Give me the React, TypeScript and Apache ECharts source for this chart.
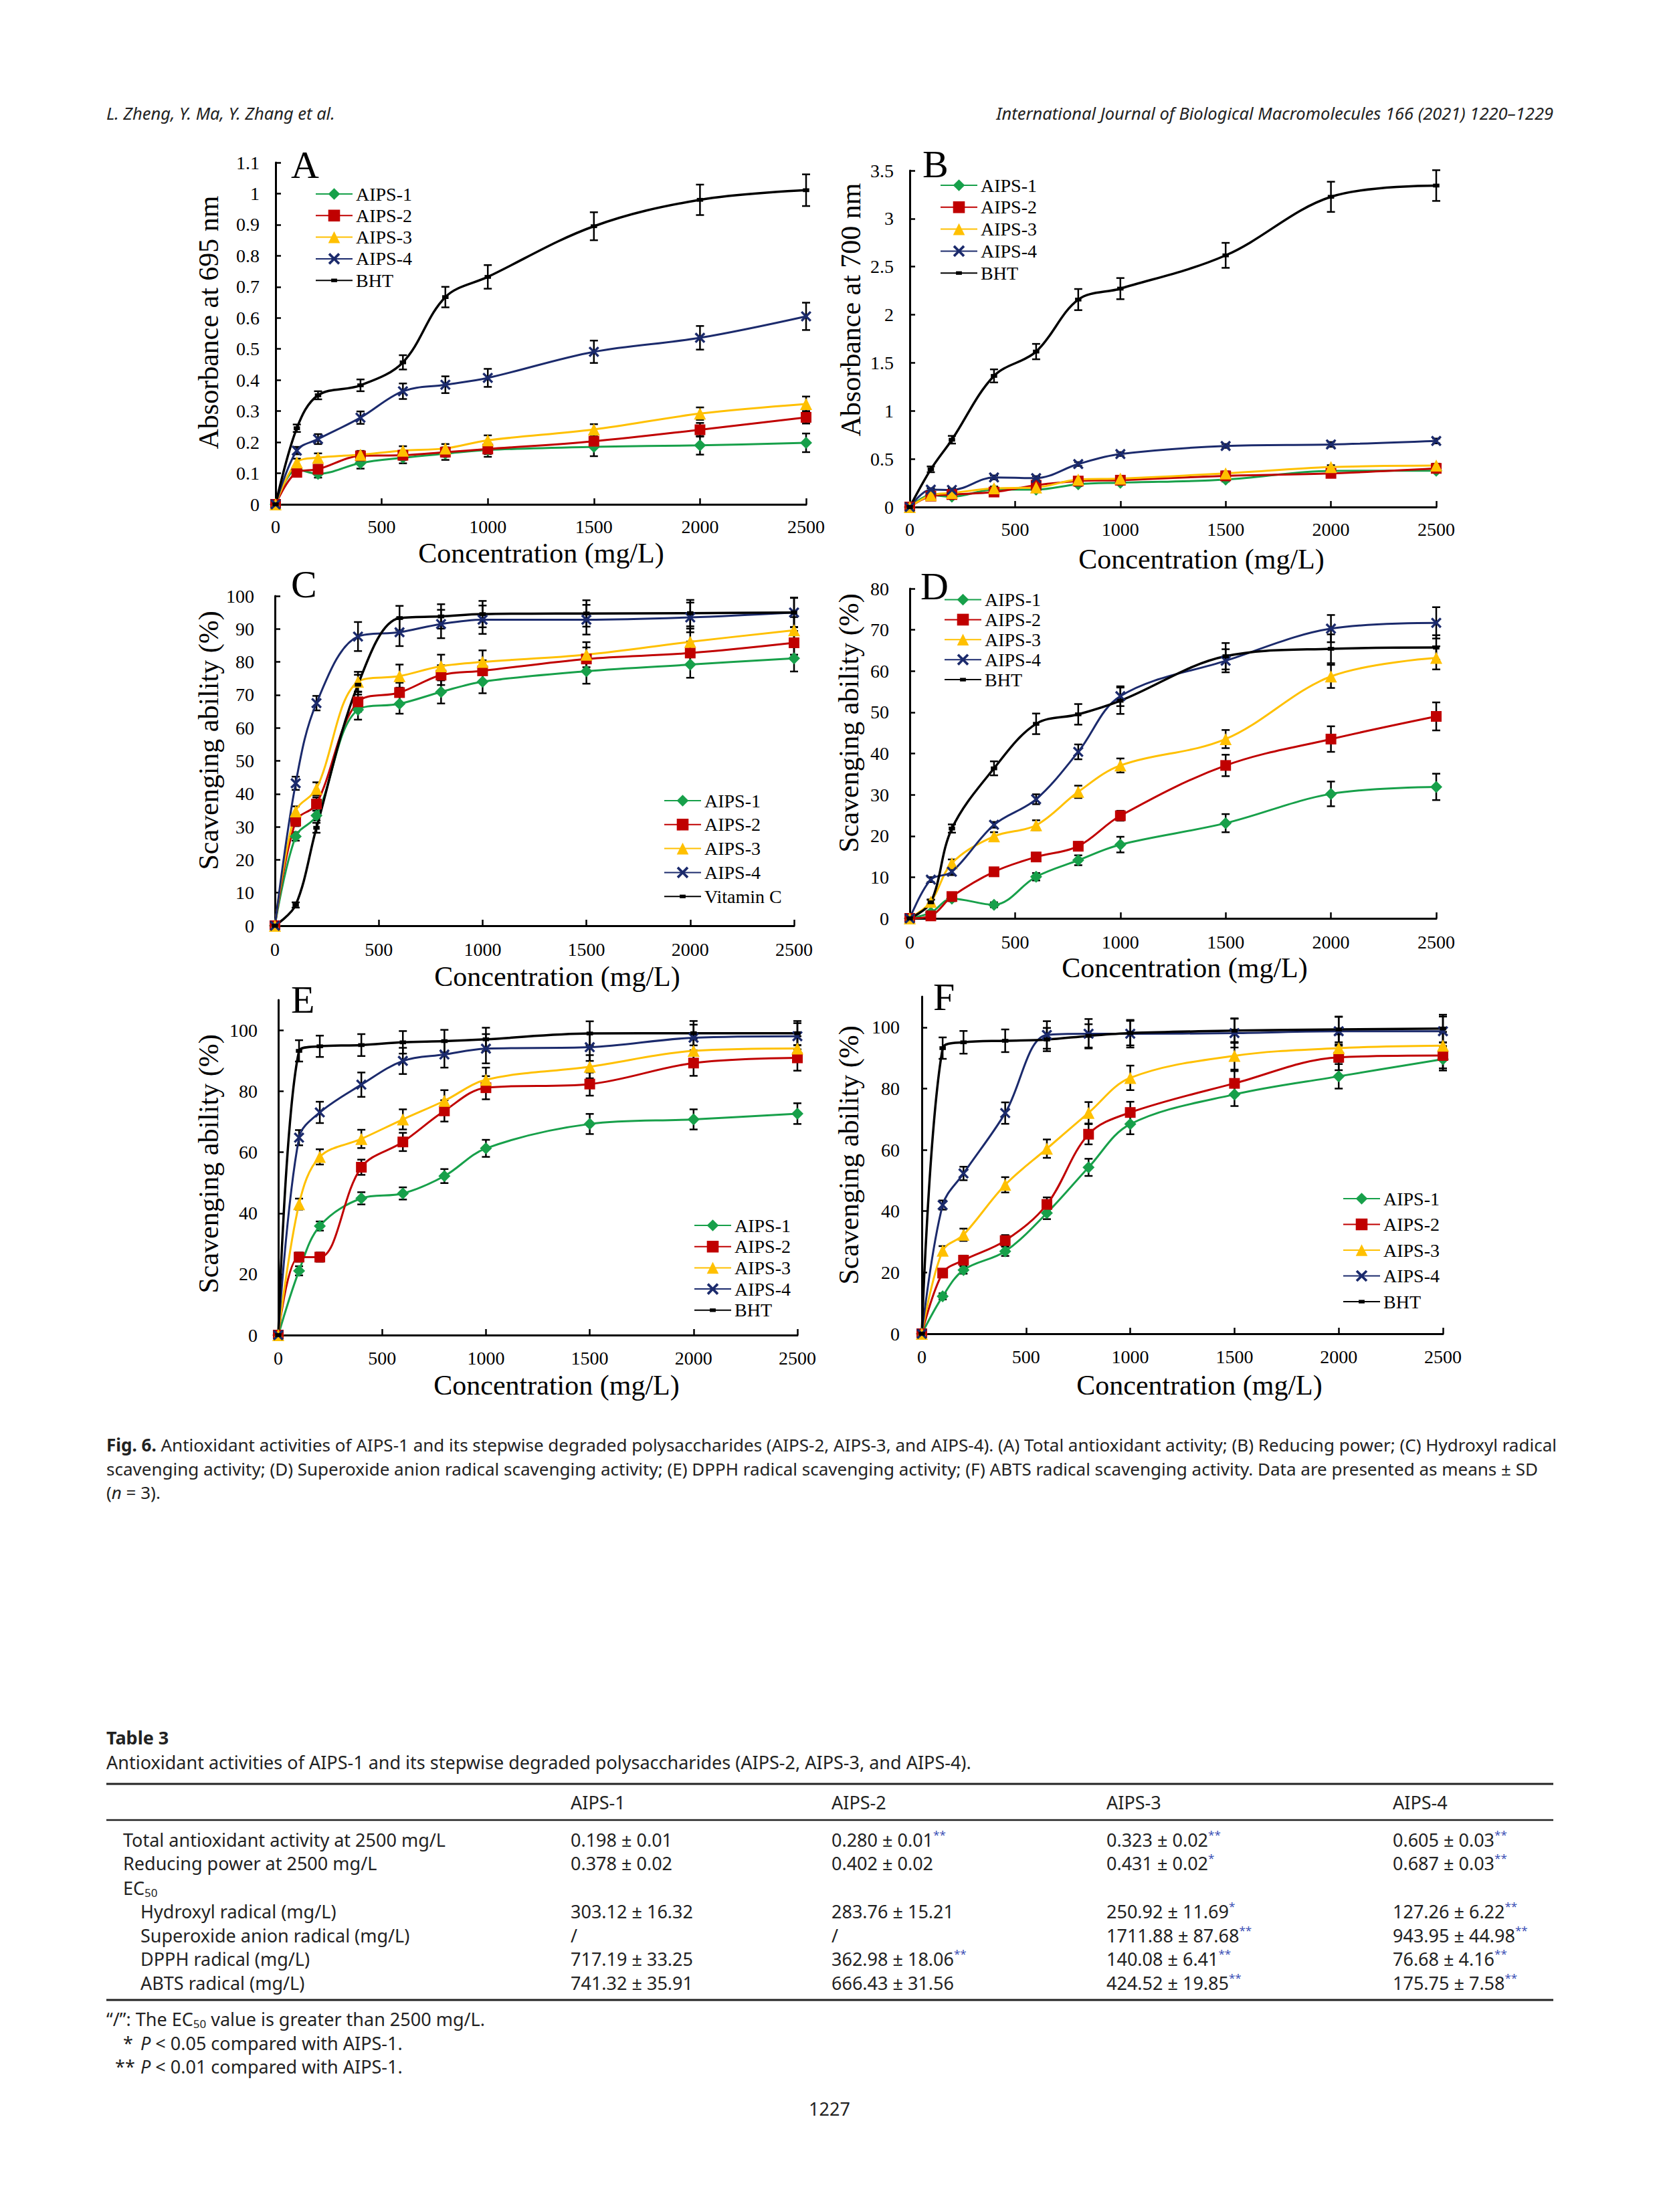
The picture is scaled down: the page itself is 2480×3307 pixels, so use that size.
import React, { useEffect, useRef } from "react";
import * as echarts from "echarts";

// ---------------- data ----------------
const X_CONC = [0, 100, 200, 400, 600, 800, 1000, 1500, 2000, 2500];

// (A) Total antioxidant activity (absorbance at 695 nm)
const A_AIPS1 = [0, 0.112, 0.098, 0.133, 0.150, 0.163, 0.175, 0.185, 0.190, 0.198];
const A_AIPS1_SD = [0, 0.012, 0.012, 0.018, 0.018, 0.02, 0.022, 0.03, 0.03, 0.03];
const A_AIPS2 = [0, 0.103, 0.113, 0.156, 0.158, 0.168, 0.178, 0.203, 0.240, 0.280];
const A_AIPS2_SD = [0, 0.012, 0.014, 0.012, 0.015, 0.015, 0.016, 0.02, 0.022, 0.02];
const A_AIPS3 = [0, 0.135, 0.150, 0.160, 0.173, 0.180, 0.206, 0.241, 0.292, 0.323];
const A_AIPS3_SD = [0, 0.012, 0.014, 0.012, 0.014, 0.014, 0.016, 0.017, 0.02, 0.024];
const A_AIPS4 = [0, 0.173, 0.210, 0.279, 0.364, 0.385, 0.407, 0.491, 0.536, 0.605];
const A_AIPS4_SD = [0, 0.012, 0.016, 0.02, 0.025, 0.027, 0.029, 0.036, 0.038, 0.044];
const A_BHT = [0, 0.245, 0.351, 0.383, 0.457, 0.667, 0.732, 0.895, 0.980, 1.011];
const A_BHT_SD = [0, 0.012, 0.013, 0.019, 0.023, 0.033, 0.038, 0.045, 0.049, 0.051];

// (B) Reducing power (absorbance at 700 nm)
const B_AIPS1 = [0, 0.123, 0.107, 0.181, 0.181, 0.237, 0.253, 0.285, 0.376, 0.378];
const B_AIPS1_SD = [0, 0.015, 0.015, 0.02, 0.02, 0.02, 0.02, 0.02, 0.02, 0.02];
const B_AIPS2 = [0, 0.113, 0.130, 0.156, 0.227, 0.270, 0.279, 0.324, 0.350, 0.402];
const B_AIPS2_SD = [0, 0.015, 0.015, 0.02, 0.02, 0.02, 0.02, 0.02, 0.02, 0.02];
const B_AIPS3 = [0, 0.123, 0.146, 0.194, 0.204, 0.285, 0.295, 0.350, 0.415, 0.431];
const B_AIPS3_SD = [0, 0.015, 0.015, 0.02, 0.02, 0.02, 0.02, 0.02, 0.02, 0.02];
const B_AIPS4 = [0, 0.181, 0.178, 0.308, 0.301, 0.447, 0.551, 0.635, 0.651, 0.687];
const B_AIPS4_SD = [0, 0.015, 0.015, 0.02, 0.02, 0.02, 0.02, 0.02, 0.025, 0.025];
const B_BHT = [0, 0.392, 0.70, 1.364, 1.617, 2.158, 2.272, 2.618, 3.227, 3.344];
const B_BHT_SD = [0, 0.03, 0.04, 0.068, 0.08, 0.11, 0.11, 0.13, 0.157, 0.16];

// (C) Hydroxyl radical scavenging (%)
const C_AIPS1 = [0, 27.1, 33.4, 65.5, 67.3, 70.9, 74.0, 77.2, 79.2, 81.1];
const C_AIPS1_SD = [0, 1.3, 1.5, 3, 3, 3.5, 3.5, 3.8, 4, 4];
const C_AIPS2 = [0, 31.7, 36.9, 67.9, 70.7, 76.0, 77.3, 80.9, 82.7, 85.8];
const C_AIPS2_SD = [0, 1.5, 2, 3, 3, 3, 3.2, 3.5, 3.5, 3.6];
const C_AIPS3 = [0, 34.7, 41.5, 74.0, 75.7, 78.7, 80.0, 82.2, 86.1, 89.6];
const C_AIPS3_SD = [0, 1.5, 2, 3, 3.5, 3.5, 3.5, 3.8, 4, 4];
const C_AIPS4 = [0, 43.2, 67.5, 87.7, 89.0, 91.5, 92.8, 92.8, 93.5, 95.0];
const C_AIPS4_SD = [0, 2, 2.2, 4.4, 4.2, 4.3, 4.3, 4.5, 4.5, 4.5];
const C_VITC = [0, 6.3, 29.7, 73.1, 93.3, 93.8, 94.5, 94.7, 94.8, 95.0];
const C_VITC_SD = [0, 0.8, 1.5, 3, 3.7, 3.7, 4, 4, 4, 4.4];

// (D) Superoxide anion radical scavenging (%)
const D_AIPS1 = [0, 1.4, 4.8, 3.3, 10.1, 14.1, 17.9, 23.1, 30.2, 31.9];
const D_AIPS1_SD = [0, 0.5, 0.6, 0.6, 0.9, 1.2, 1.9, 2.2, 3, 3.2];
const D_AIPS2 = [0, 0.6, 5.3, 11.3, 14.9, 17.5, 24.9, 37.1, 43.5, 49.0];
const D_AIPS2_SD = [0, 0.4, 0.8, 1, 1, 1, 1.2, 2.6, 3.1, 3.4];
const D_AIPS3 = [0, 4.0, 13.4, 19.9, 22.6, 30.7, 37.1, 43.5, 58.7, 63.2];
const D_AIPS3_SD = [0, 0.6, 0.9, 1, 1.2, 1.5, 1.7, 2.2, 2.8, 2.8];
const D_AIPS4 = [0, 9.4, 11.3, 22.7, 28.9, 40.4, 53.9, 62.5, 70.3, 71.7];
const D_AIPS4_SD = [0, 0.6, 0.8, 0.7, 1.2, 1.8, 2.4, 2.8, 3.3, 3.8];
const D_BHT = [0, 3.9, 21.8, 36.4, 47.2, 49.5, 52.8, 63.6, 65.4, 65.7];
const D_BHT_SD = [0, 0.6, 1, 1.7, 2.5, 2.5, 3.2, 3.2, 3.5, 3];

// (E) DPPH radical scavenging (%)
const E_AIPS1 = [0, 21.1, 35.8, 44.9, 46.5, 52.2, 61.3, 69.3, 70.8, 72.7];
const E_AIPS1_SD = [0, 1.5, 1.5, 2, 2, 2.3, 2.8, 3.3, 3.3, 3.4];
const E_AIPS2 = [0, 25.6, 25.6, 55.1, 63.4, 73.6, 81.2, 82.4, 89.3, 91.0];
const E_AIPS2_SD = [0, 1.5, 1.5, 2.5, 3, 3.5, 3.8, 3.8, 4.2, 4.2];
const E_AIPS3 = [0, 43.0, 58.5, 64.4, 70.8, 76.9, 83.8, 88.1, 93.3, 94.1];
const E_AIPS3_SD = [0, 1.8, 2.5, 3, 3.3, 3.5, 4, 3.8, 4, 4];
const E_AIPS4 = [0, 64.8, 73.1, 82.2, 90.0, 92.1, 94.0, 94.5, 97.6, 98.1];
const E_AIPS4_SD = [0, 2.5, 3.5, 4, 4.3, 4.3, 4.8, 4.5, 4.3, 4.3];
const E_BHT = [0, 93.3, 94.8, 95.2, 96.1, 96.5, 97.1, 99.0, 99.1, 99.1];
const E_BHT_SD = [0, 3.5, 3.5, 3.6, 3.7, 3.7, 3.8, 4, 4, 4];

// (F) ABTS radical scavenging (%)
const F_AIPS1 = [0, 12.2, 20.8, 26.9, 39.4, 54.3, 68.4, 78.1, 84.0, 89.6];
const F_AIPS1_SD = [0, 1, 1.2, 1.5, 2, 2.8, 3.3, 3.8, 4, 3.7];
const F_AIPS2 = [0, 19.8, 24.0, 30.4, 42.2, 65.1, 72.2, 81.7, 90.2, 90.8];
const F_AIPS2_SD = [0, 1, 1.5, 1.8, 2.3, 3.3, 3.5, 4, 4.2, 4.2];
const F_AIPS3 = [0, 27.1, 32.3, 48.6, 60.4, 72.1, 83.5, 90.7, 93.2, 94.0];
const F_AIPS3_SD = [0, 1.5, 2, 2.5, 3, 3.5, 4, 4.5, 4.5, 4.5];
const F_AIPS4 = [0, 42.0, 52.3, 72.0, 97.5, 97.9, 97.9, 98.1, 98.7, 98.7];
const F_AIPS4_SD = [0, 1.5, 2.2, 3.5, 4.5, 4.8, 4.5, 4.7, 4.7, 4.8];
const F_BHT = [0, 93.2, 95.1, 95.6, 96.0, 97.2, 98.1, 98.9, 99.3, 99.6];
const F_BHT_SD = [0, 3.5, 3.7, 3.7, 3.8, 3.8, 4, 4, 4.2, 4.5];

const PCT_TICKS_20 = [0, 20, 40, 60, 80, 100];

// Table 3
const TABLE_COLS = ["AIPS-1", "AIPS-2", "AIPS-3", "AIPS-4"];
const TABLE_ROW_LABELS = [
  "Total antioxidant activity at 2500 mg/L",
  "Reducing power at 2500 mg/L",
  "EC50",
  "Hydroxyl radical (mg/L)",
  "Superoxide anion radical (mg/L)",
  "DPPH radical (mg/L)",
  "ABTS radical (mg/L)",
];
// [value, significance]
const ROW_TOTAL = [["0.198 ± 0.01", ""], ["0.280 ± 0.01", "**"], ["0.323 ± 0.02", "**"], ["0.605 ± 0.03", "**"]];
const ROW_REDUCING = [["0.378 ± 0.02", ""], ["0.402 ± 0.02", ""], ["0.431 ± 0.02", "*"], ["0.687 ± 0.03", "**"]];
const ROW_HYDROXYL = [["303.12 ± 16.32", ""], ["283.76 ± 15.21", ""], ["250.92 ± 11.69", "*"], ["127.26 ± 6.22", "**"]];
const ROW_SUPEROXIDE = [["/", ""], ["/", ""], ["1711.88 ± 87.68", "**"], ["943.95 ± 44.98", "**"]];
const ROW_DPPH = [["717.19 ± 33.25", ""], ["362.98 ± 18.06", "**"], ["140.08 ± 6.41", "**"], ["76.68 ± 4.16", "**"]];
const ROW_ABTS = [["741.32 ± 35.91", ""], ["666.43 ± 31.56", ""], ["424.52 ± 19.85", "**"], ["175.75 ± 7.58", "**"]];

// ---------------- styles / layout ----------------
const SERIF = "'Liberation Serif', 'Times New Roman', serif";
const SANS = "'Noto Sans', 'Liberation Sans', sans-serif";

const X_SYMBOL =
  "path://M1.5,0 L5,3.5 L8.5,0 L10,1.5 L6.5,5 L10,8.5 L8.5,10 L5,6.5 L1.5,10 L0,8.5 L3.5,5 L0,1.5 Z";
const DASH_SYMBOL = "path://M0,0 L0,0 M20,20 L20,20 M5,7 L15,7 L15,13 L5,13 Z";

const STYLE: Record<string, any> = {
  "AIPS-1": { color: "#17a04a", symbol: "diamond", size: 18, width: 3 },
  "AIPS-2": { color: "#c00000", symbol: "rect", size: 16, width: 3 },
  "AIPS-3": { color: "#ffc000", symbol: "triangle", size: 18, width: 3 },
  "AIPS-4": { color: "#1b2a6c", symbol: X_SYMBOL, size: 16, width: 3 },
  BHT: { color: "#000000", symbol: DASH_SYMBOL, size: 19, width: 3.5 },
  "Vitamin C": { color: "#000000", symbol: DASH_SYMBOL, size: 19, width: 3.5 },
};

const PANELS = [
  {
    letter: "A", lx: 435, ly: 246,
    grid: { left: 412, top: 243, width: 793, height: 511 },
    yMax: 1.1, yInt: 0.1, yCustom: null as number[] | null, yMargin: 24, xMargin: 19,
    yTitle: "Absorbance at 695 nm", ytx: 312, yty: 482, xtx: 809, xty: 827,
    legend: { left: 471, top: 276, gap: 4.3 },
    series: [["AIPS-1", A_AIPS1, A_AIPS1_SD], ["AIPS-2", A_AIPS2, A_AIPS2_SD], ["AIPS-3", A_AIPS3, A_AIPS3_SD], ["AIPS-4", A_AIPS4, A_AIPS4_SD], ["BHT", A_BHT, A_BHT_SD]],
  },
  {
    letter: "B", lx: 1379, ly: 245,
    grid: { left: 1360, top: 255, width: 787, height: 503 },
    yMax: 3.5, yInt: 0.5, yCustom: null, yMargin: 24, xMargin: 19,
    yTitle: "Absorbance at 700 nm", ytx: 1272, yty: 463, xtx: 1796, xty: 836,
    legend: { left: 1405, top: 263, gap: 4.8 },
    series: [["AIPS-1", B_AIPS1, B_AIPS1_SD], ["AIPS-2", B_AIPS2, B_AIPS2_SD], ["AIPS-3", B_AIPS3, B_AIPS3_SD], ["AIPS-4", B_AIPS4, B_AIPS4_SD], ["BHT", B_BHT, B_BHT_SD]],
  },
  {
    letter: "C", lx: 435, ly: 873,
    grid: { left: 411, top: 891, width: 776, height: 493 },
    yMax: 100, yInt: 10, yCustom: null, yMargin: 31, xMargin: 21,
    yTitle: "Scavenging ability (%)", ytx: 312, yty: 1107, xtx: 833, xty: 1460,
    legend: { left: 992, top: 1183, gap: 7.8 },
    series: [["AIPS-1", C_AIPS1, C_AIPS1_SD], ["AIPS-2", C_AIPS2, C_AIPS2_SD], ["AIPS-3", C_AIPS3, C_AIPS3_SD], ["AIPS-4", C_AIPS4, C_AIPS4_SD], ["Vitamin C", C_VITC, C_VITC_SD]],
  },
  {
    letter: "D", lx: 1376, ly: 876,
    grid: { left: 1360, top: 880, width: 787, height: 493 },
    yMax: 80, yInt: 10, yCustom: null, yMargin: 31, xMargin: 21,
    yTitle: "Scavenging ability (%)", ytx: 1269, yty: 1081, xtx: 1771, xty: 1447,
    legend: { left: 1411, top: 882.5, gap: 1.9 },
    series: [["AIPS-1", D_AIPS1, D_AIPS1_SD], ["AIPS-2", D_AIPS2, D_AIPS2_SD], ["AIPS-3", D_AIPS3, D_AIPS3_SD], ["AIPS-4", D_AIPS4, D_AIPS4_SD], ["BHT", D_BHT, D_BHT_SD]],
  },
  {
    letter: "E", lx: 435, ly: 1494,
    grid: { left: 416, top: 1495, width: 776, height: 501 },
    yMax: 110, yInt: 20, yCustom: PCT_TICKS_20, yMargin: 31, xMargin: 20,
    yTitle: "Scavenging ability (%)", ytx: 312, yty: 1740, xtx: 832, xty: 2071,
    legend: { left: 1037, top: 1818, gap: 3.7 },
    series: [["AIPS-1", E_AIPS1, E_AIPS1_SD], ["AIPS-2", E_AIPS2, E_AIPS2_SD], ["AIPS-3", E_AIPS3, E_AIPS3_SD], ["AIPS-4", E_AIPS4, E_AIPS4_SD], ["BHT", E_BHT, E_BHT_SD]],
  },
  {
    letter: "F", lx: 1395, ly: 1490,
    grid: { left: 1378, top: 1490, width: 779, height: 504 },
    yMax: 110, yInt: 20, yCustom: PCT_TICKS_20, yMargin: 33, xMargin: 20,
    yTitle: "Scavenging ability (%)", ytx: 1269, yty: 1727, xtx: 1793, xty: 2071,
    legend: { left: 2007, top: 1778, gap: 10.5 },
    series: [["AIPS-1", F_AIPS1, F_AIPS1_SD], ["AIPS-2", F_AIPS2, F_AIPS2_SD], ["AIPS-3", F_AIPS3, F_AIPS3_SD], ["AIPS-4", F_AIPS4, F_AIPS4_SD], ["BHT", F_BHT, F_BHT_SD]],
  },
];

function errorRender(params: any, api: any) {
  const x = api.value(0);
  const y = api.value(1);
  const e = api.value(2);
  if (!e) return null;
  const t = api.coord([x, y + e]);
  const b = api.coord([x, y - e]);
  const w = 6;
  const st = { stroke: "#000", lineWidth: 2.5 };
  return {
    type: "group",
    children: [
      { type: "line", shape: { x1: t[0], y1: t[1], x2: b[0], y2: b[1] }, style: st },
      { type: "line", shape: { x1: t[0] - w, y1: t[1], x2: t[0] + w, y2: t[1] }, style: st },
      { type: "line", shape: { x1: b[0] - w, y1: b[1], x2: b[0] + w, y2: b[1] }, style: st },
    ],
  };
}

function buildOption() {
  const grid: any[] = [];
  const xAxis: any[] = [];
  const yAxis: any[] = [];
  const legend: any[] = [];
  const series: any[] = [];
  const graphics: any[] = [];

  PANELS.forEach((p, i) => {
    grid.push({ ...p.grid, containLabel: false });
    xAxis.push({
      type: "value", gridIndex: i, min: 0, max: 2500, interval: 500,
      axisLine: { show: true, onZero: false, lineStyle: { color: "#000", width: 3 } },
      axisTick: { show: true, inside: true, length: 9, lineStyle: { color: "#000", width: 2.5 } },
      axisLabel: { margin: p.xMargin, fontFamily: SERIF, fontSize: 28, color: "#000", formatter: (v: number) => String(v) },
      splitLine: { show: false },
    });
    const yLabel: any = { margin: p.yMargin, fontFamily: SERIF, fontSize: 28, color: "#000" };
    const yTick: any = { show: true, inside: true, length: 8, lineStyle: { color: "#000", width: 2.5 } };
    if (p.yCustom) {
      yLabel.customValues = p.yCustom;
      yTick.customValues = p.yCustom;
    }
    yAxis.push({
      type: "value", gridIndex: i, min: 0, max: p.yMax, interval: p.yInt,
      axisLine: { show: true, onZero: false, lineStyle: { color: "#000", width: 3 } },
      axisTick: yTick,
      axisLabel: yLabel,
      splitLine: { show: false },
    });
    legend.push({
      orient: "vertical", left: p.legend.left, top: p.legend.top, itemGap: p.legend.gap,
      itemWidth: 55, itemHeight: 22, padding: 0, selectedMode: false,
      data: p.series.map((s: any) => s[0]),
      textStyle: { fontFamily: SERIF, fontSize: 28, color: "#000", lineHeight: 20 },
    });
    p.series.forEach((s: any) => {
      const [name, vals, sds] = s;
      const st = STYLE[name];
      series.push({
        type: "line", name, xAxisIndex: i, yAxisIndex: i,
        data: X_CONC.map((x, k) => [x, vals[k]]),
        smooth: 0.35, clip: false,
        symbol: st.symbol, symbolSize: st.size, showAllSymbol: true,
        lineStyle: { color: st.color, width: st.width },
        itemStyle: { color: st.color, borderWidth: 0 },
        emphasis: { disabled: true },
        z: 2,
      });
      series.push({
        type: "custom", name: p.letter + " " + name + " SD", xAxisIndex: i, yAxisIndex: i,
        renderItem: errorRender, clip: false, silent: true, z: 2,
        encode: { x: 0, y: 1 },
        data: X_CONC.map((x, k) => [x, vals[k], sds[k]]),
      });
    });

    graphics.push({
      type: "text", x: p.lx, y: p.ly,
      style: { text: p.letter, fontFamily: SERIF, fontSize: 58, fill: "#000", textAlign: "left", textVerticalAlign: "middle" },
    });
    graphics.push({
      type: "text", x: p.ytx, y: p.yty, rotation: Math.PI / 2,
      style: { text: p.yTitle, fontFamily: SERIF, fontSize: 42, fill: "#000", textAlign: "center", textVerticalAlign: "middle" },
    });
    graphics.push({
      type: "text", x: p.xtx, y: p.xty,
      style: { text: "Concentration (mg/L)", fontFamily: SERIF, fontSize: 42, fill: "#000", textAlign: "center", textVerticalAlign: "middle" },
    });
  });

  // running head
  graphics.push({
    type: "text", x: 159, y: 169,
    style: { text: "L. Zheng, Y. Ma, Y. Zhang et al.", fontFamily: SANS, fontStyle: "italic", fontSize: 25.5, fill: "#222", textAlign: "left", textVerticalAlign: "middle" },
  });
  graphics.push({
    type: "text", x: 2322, y: 169,
    style: { text: "International Journal of Biological Macromolecules 166 (2021) 1220–1229", fontFamily: SANS, fontStyle: "italic", fontSize: 25.5, fill: "#222", textAlign: "right", textVerticalAlign: "middle" },
  });

  // caption
  const CAP = 26;
  const capRich = {
    b: { fontFamily: SANS, fontSize: CAP, fontWeight: "bold", fill: "#222", lineHeight: 30 },
    i: { fontFamily: SANS, fontSize: CAP, fontStyle: "italic", fill: "#222", lineHeight: 30 },
  };
  const capLines = [
    "{b|Fig. 6.} Antioxidant activities of AIPS-1 and its stepwise degraded polysaccharides (AIPS-2, AIPS-3, and AIPS-4). (A) Total antioxidant activity; (B) Reducing power; (C) Hydroxyl radical",
    "scavenging activity; (D) Superoxide anion radical scavenging activity; (E) DPPH radical scavenging activity; (F) ABTS radical scavenging activity. Data are presented as means ± SD",
    "({i|n} = 3).",
  ];
  const capY = [2160, 2196, 2231];
  capLines.forEach((t, k) => {
    graphics.push({
      type: "text", x: 159, y: capY[k],
      style: { text: t, rich: capRich, fontFamily: SANS, fontSize: CAP, fill: "#222", lineHeight: 30, textAlign: "left", textVerticalAlign: "middle" },
    });
  });

  // Table 3
  const T = 27;
  const tRich = {
    sup: { fontFamily: SANS, fontSize: 17, fill: "#3b4fb5", lineHeight: 17, verticalAlign: "top" },
    sub: { fontFamily: SANS, fontSize: 17, fill: "#222", lineHeight: 17, verticalAlign: "bottom" },
    it: { fontFamily: SANS, fontSize: T, fontStyle: "italic", fill: "#222", lineHeight: 32 },
  };
  const txt = (text: string, x: number, y: number, extra: any = {}) =>
    graphics.push({
      type: "text", x, y,
      style: { text, rich: tRich, fontFamily: SANS, fontSize: T, fill: "#222", lineHeight: 32, textAlign: "left", textVerticalAlign: "middle", ...extra },
    });
  txt("Table 3", 159, 2597, { fontWeight: "bold" });
  txt("Antioxidant activities of AIPS-1 and its stepwise degraded polysaccharides (AIPS-2, AIPS-3, and AIPS-4).", 159, 2634);
  const rule = (y: number, w: number) =>
    graphics.push({ type: "line", shape: { x1: 159, y1: y, x2: 2322, y2: y }, style: { stroke: "#222", lineWidth: w } });
  rule(2667, 3);
  rule(2721, 2.5);
  rule(2990, 3);
  const colX = [853, 1243, 1654, 2082];
  TABLE_COLS.forEach((c, k) => txt(c, colX[k], 2694));
  const rowY = [2750, 2785, 2822, 2857, 2893, 2928, 2964];
  const rowX = [184, 184, 184, 210, 210, 210, 210];
  TABLE_ROW_LABELS.forEach((r, k) => {
    const label = r === "EC50" ? "EC{sub|50}" : r;
    txt(label, rowX[k], rowY[k]);
  });
  const rowsData = [ROW_TOTAL, ROW_REDUCING, null, ROW_HYDROXYL, ROW_SUPEROXIDE, ROW_DPPH, ROW_ABTS];
  rowsData.forEach((row, k) => {
    if (!row) return;
    row.forEach((cell, c) => {
      const t = cell[1] ? cell[0] + "{sup|" + cell[1] + "}" : cell[0];
      txt(t, colX[c], rowY[k]);
    });
  });
  txt("“/”: The EC{sub|50} value is greater than 2500 mg/L.", 159, 3018);
  txt("*", 184, 3054);
  txt("{it|P} < 0.05 compared with AIPS-1.", 210, 3054);
  txt("**", 172, 3089);
  txt("{it|P} < 0.01 compared with AIPS-1.", 210, 3089);
  txt("1227", 1240, 3152, { textAlign: "center" });

  return {
    animation: false,
    backgroundColor: "#ffffff",
    grid, xAxis, yAxis, legend, series,
    graphic: { elements: graphics },
  };
}

export default function App() {
  const ref = useRef<HTMLDivElement>(null);
  useEffect(() => {
    if (!ref.current) return;
    const chart = echarts.init(ref.current, null, { renderer: "svg" });
    chart.setOption(buildOption() as any);
    return () => chart.dispose();
  }, []);
  return (
    <div
      ref={ref}
      style={{ position: "absolute", left: 0, top: 0, width: 2480, height: 3307, background: "#fff" }}
    />
  );
}
